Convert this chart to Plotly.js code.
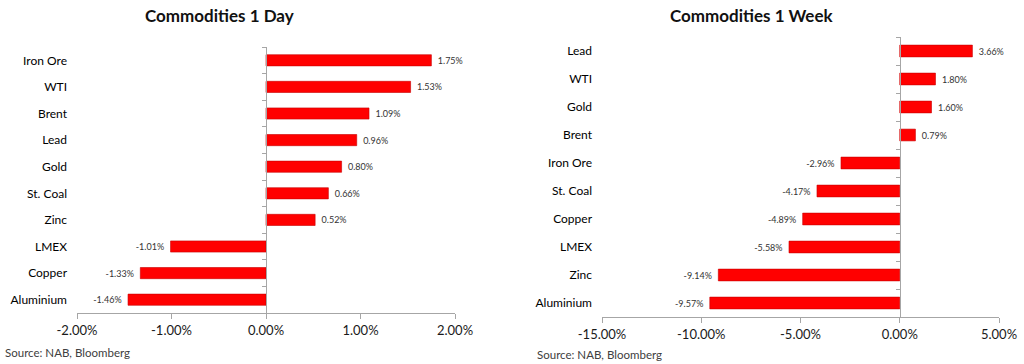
<!DOCTYPE html>
<html>
<head>
<meta charset="utf-8">
<script src="https://cdn.plot.ly/plotly-3.0.1.min.js"></script>
<style>html,body{margin:0;padding:0;background:#fff;}#chart{width:1024px;height:364px;}</style>
</head>
<body>
<div id="chart"></div>
<script>
// ---- data ----
const dayCategories = ['Iron Ore','WTI','Brent','Lead','Gold','St. Coal','Zinc','LMEX','Copper','Aluminium'];
const dayValues = [1.75, 1.53, 1.09, 0.96, 0.80, 0.66, 0.52, -1.01, -1.33, -1.46];
const dayTickVals = [-2, -1, 0, 1, 2];
const dayTickText = ['-2.00%', '-1.00%', '0.00%', '1.00%', '2.00%'];

const weekCategories = ['Lead','WTI','Gold','Brent','Iron Ore','St. Coal','Copper','LMEX','Zinc','Aluminium'];
const weekValues = [3.66, 1.80, 1.60, 0.79, -2.96, -4.17, -4.89, -5.58, -9.14, -9.57];
const weekTickVals = [-15, -10, -5, 0, 5];
const weekTickText = ['-15.00%', '-10.00%', '-5.00%', '0.00%', '5.00%'];

const titles = ['Commodities 1 Day', 'Commodities 1 Week'];
const sourceText = 'Source: NAB, Bloomberg';

// ---- layout helpers ----
const W = 1024, H = 364;
const px = v => v / W;
const py = v => (H - v) / H;
const FONT = 'Lato, "Open Sans", sans-serif';
const RED = 'rgb(255,0,0)';
const fmt = v => (v >= 0 ? '\u2009 ' + v.toFixed(2) + '%' : v.toFixed(2) + '% \u2009');

const dayRange = [-2, 2], weekRange = [-15, 5];
const dayDom = [px(77), px(455)], weekDom = [px(602), px(999)];
const zeroPos = (dom, r) => dom[0] + (0 - r[0]) / (r[1] - r[0]) * (dom[1] - dom[0]);

function barTrace(cats, vals, xa, ya) {
  return {
    type: 'bar', orientation: 'h', x: vals, y: cats, xaxis: xa, yaxis: ya,
    text: vals.map(fmt), textposition: 'outside', cliponaxis: false,
    textfont: {family: FONT, size: 9, color: '#333'},
    marker: {color: RED, line: {color: 'rgb(200,0,0)', width: 0.6}},
    hoverinfo: 'skip', showlegend: false
  };
}
function ghostTrace(cats, vals, xa, ya) {
  return {
    type: 'bar', orientation: 'h', x: vals, y: cats, xaxis: xa, yaxis: ya,
    marker: {opacity: 0}, hoverinfo: 'skip', showlegend: false
  };
}

const data = [
  barTrace(dayCategories, dayValues, 'x', 'y'),
  ghostTrace(dayCategories, dayValues, 'x', 'y3'),
  barTrace(weekCategories, weekValues, 'x2', 'y2'),
  ghostTrace(weekCategories, weekValues, 'x2', 'y4')
];

const xCommon = {
  showgrid: false, zeroline: false, showline: true, linecolor: '#a6a6a6', linewidth: 1,
  ticks: 'outside', ticklen: 5, tickcolor: '#a6a6a6',
  tickfont: {family: FONT, size: 13, color: '#1a1a1a'}, fixedrange: true
};
const yLabels = {
  type: 'category', autorange: 'reversed', showgrid: false, zeroline: false, showline: false,
  ticks: '', tickfont: {family: FONT, size: 12, color: '#000'}, ticklabelstandoff: 9, fixedrange: true
};
const yZero = {
  type: 'category', autorange: 'reversed', showgrid: false, zeroline: false, showline: true,
  linecolor: '#a6a6a6', linewidth: 1, ticks: 'outside', ticklen: 4, tickcolor: '#a6a6a6',
  tickson: 'boundaries', showticklabels: false, anchor: 'free', fixedrange: true
};

const layout = {
  width: W, height: H, margin: {l: 0, r: 0, t: 0, b: 0},
  paper_bgcolor: '#fff', plot_bgcolor: 'rgba(0,0,0,0)',
  bargap: 0.58, showlegend: false,
  font: {family: FONT},
  xaxis: Object.assign({}, xCommon, {domain: dayDom, range: dayRange, anchor: 'y',
    tickmode: 'array', tickvals: dayTickVals, ticktext: dayTickText}),
  yaxis: Object.assign({}, yLabels, {domain: [py(313), py(47)], anchor: 'x'}),
  yaxis3: Object.assign({}, yZero, {domain: [py(313), py(47)], overlaying: 'y',
    position: zeroPos(dayDom, dayRange)}),
  xaxis2: Object.assign({}, xCommon, {domain: weekDom, range: weekRange, anchor: 'y2',
    tickmode: 'array', tickvals: weekTickVals, ticktext: weekTickText}),
  yaxis2: Object.assign({}, yLabels, {domain: [py(317), py(37)], anchor: 'x2'}),
  yaxis4: Object.assign({}, yZero, {domain: [py(317), py(37)], overlaying: 'y2',
    position: zeroPos(weekDom, weekRange)}),
  annotations: [
    {text: '<b>' + titles[0] + '</b>', xref: 'paper', yref: 'paper', x: px(219), y: py(16),
     xanchor: 'center', yanchor: 'middle', showarrow: false, font: {family: FONT, size: 17, color: '#111'}},
    {text: '<b>' + titles[1] + '</b>', xref: 'paper', yref: 'paper', x: px(752), y: py(16),
     xanchor: 'center', yanchor: 'middle', showarrow: false, font: {family: FONT, size: 17, color: '#111'}},
    {text: sourceText, xref: 'paper', yref: 'paper', x: px(3), y: py(352),
     xanchor: 'left', yanchor: 'middle', showarrow: false, font: {family: FONT, size: 11.5, color: '#404040'}},
    {text: sourceText, xref: 'paper', yref: 'paper', x: px(535), y: py(354),
     xanchor: 'left', yanchor: 'middle', showarrow: false, font: {family: FONT, size: 11.5, color: '#404040'}}
  ]
};

Plotly.newPlot('chart', data, layout, {staticPlot: true, displayModeBar: false});
</script>
</body>
</html>
